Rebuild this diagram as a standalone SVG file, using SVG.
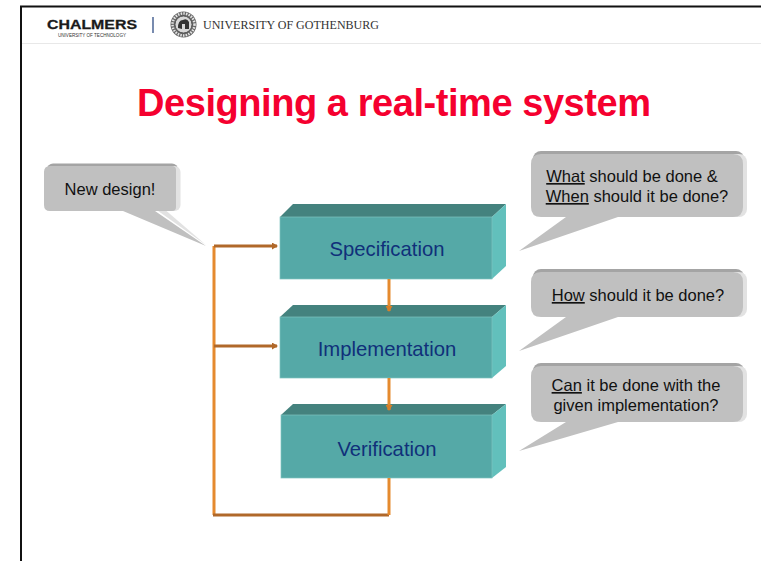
<svg xmlns="http://www.w3.org/2000/svg" width="761" height="561" viewBox="0 0 761 561">
<style>
text{font-family:"Liberation Sans",Arial,sans-serif}
.top{fill:#44827e}.front{fill:#55a9a7;stroke:#7fc4c0;stroke-width:.7}.side{fill:#62c0bc}
.lbl{font-size:20.300px;fill:#10307a;text-anchor:middle}
.sp{font-size:16.500px;fill:#111;text-anchor:middle}
.u{text-decoration:underline}
.sh1{fill:#a4a4a4}.sh2{fill:#e2e2e2}.bub{fill:#c0c0c0}
.or{stroke:#e58a2e;stroke-width:3;fill:none}.br{stroke:#b0682a;stroke-width:3;fill:none}
</style>
<defs>
<marker id="ah" markerUnits="userSpaceOnUse" markerWidth="7" markerHeight="7" refX="5" refY="3.500" orient="auto"><path d="M0 0L6 3.500L0 7Z" fill="#b0682a"/></marker>
<marker id="ao" markerUnits="userSpaceOnUse" markerWidth="7" markerHeight="7" refX="5" refY="3.500" orient="auto"><path d="M0 0L6 3.500L0 7Z" fill="#d67e28"/></marker>
</defs>
<rect width="761" height="561" fill="#fff"/>
<g id="frame">
<path d="M21 561V6.500H761" fill="none" stroke="#111" stroke-width="2"/>
<path d="M22 43.500H761" stroke="#e8e8e8" stroke-width="1"/>
</g>
<g id="header">
<text x="92" y="29" font-size="13.500" font-weight="bold" fill="#1a1a1a" stroke="#1a1a1a" stroke-width=".3" text-anchor="middle" textLength="90" lengthAdjust="spacingAndGlyphs">CHALMERS</text>
<text x="92" y="36.500" font-size="4.800" fill="#333" text-anchor="middle" textLength="68" lengthAdjust="spacingAndGlyphs">UNIVERSITY OF TECHNOLOGY</text>
<path d="M153 17V33" stroke="#1f3f7a" stroke-width="1.200"/>
<circle cx="183.500" cy="24.500" r="13" fill="#666"/>
<circle cx="183.500" cy="24.500" r="11" fill="none" stroke="#e4e4e4" stroke-width="2.500" stroke-dasharray="1.500 1.200"/>
<circle cx="183.500" cy="24.500" r="8.500" fill="#d8d8d8" stroke="#444" stroke-width=".8"/>
<path d="M178 28Q178 20 183 20Q187 18 189 22V29H185V24H182V29Z" fill="#333"/>
<text x="203" y="29" font-size="11.800" fill="#333" style="font-family:'Liberation Serif',serif" textLength="176" lengthAdjust="spacingAndGlyphs">UNIVERSITY OF GOTHENBURG</text>
</g>
<text x="394" y="116" font-size="38" font-weight="bold" fill="#f5002f" text-anchor="middle" textLength="514" lengthAdjust="spacing">Designing a real-time system</text>
<g id="specification">
<path class="top" d="M280 217L293 204H506L492 217Z"/><path class="side" d="M492 217L506 204V266L492 279Z"/><rect class="front" x="280" y="217" width="212" height="62"/>
<text class="lbl" x="387" y="256">Specification</text>
</g>
<g id="implementation">
<path class="top" d="M280 317L293 305H506L492 317Z"/><path class="side" d="M492 317L506 305V366L492 378Z"/><rect class="front" x="280" y="317" width="212" height="61"/>
<text class="lbl" x="387" y="356">Implementation</text>
</g>
<g id="verification">
<path class="top" d="M281 415L293 404H506L492 415Z"/><path class="side" d="M492 415L506 404V467L492 478Z"/><rect class="front" x="281" y="415" width="211" height="63"/>
<text class="lbl" x="387" y="456">Verification</text>
</g>
<g id="connectors">
<path class="or" d="M214 246V515"/>
<path class="br" d="M214 246H277" marker-end="url(#ah)"/>
<path class="br" d="M214 346H277" stroke-width="2" marker-end="url(#ah)"/>
<path class="br" d="M213 515H389"/>
<path class="or" d="M389 478V515"/>
<path class="or" d="M389 279V311" marker-end="url(#ao)"/>
<path class="or" d="M389 378V410" marker-end="url(#ao)"/>
</g>
<g id="callout-new">
<rect class="sh1" x="47" y="163.500" width="131" height="20" rx="6"/><rect class="sh2" x="60" y="166" width="120.500" height="45" rx="6"/>
<path class="sh2" d="M154 208L206 245L163 208Z"/>
<path class="bub" d="M50 166H172Q176 166 176 170V207Q176 211 172 211H155L206 246L123 211H50Q44 211 44 205V172Q44 166 50 166Z"/>
<text class="sp" x="110" y="195">New design!</text>
</g>
<g id="callout-what">
<rect class="sh1" x="533" y="151" width="211" height="20" rx="8"/><rect class="sh2" x="660" y="154" width="87" height="63" rx="8"/>
<path class="bub" d="M541 154H733Q743 154 743 164V207Q743 217 733 217H618L519 251L566 217H541Q531 217 531 207V164Q531 154 541 154Z"/>
<text class="sp" x="632" y="182"><tspan class="u">What</tspan> should be done &amp;</text>
<text class="sp" x="637" y="202"><tspan class="u">When</tspan> should it be done?</text>
</g>
<g id="callout-how">
<rect class="sh1" x="533" y="269" width="211" height="20" rx="8"/><rect class="sh2" x="660" y="272" width="87" height="45" rx="8"/>
<path class="bub" d="M541 272H733Q743 272 743 282V307Q743 317 733 317H618L519 351L566 317H541Q531 317 531 307V282Q531 272 541 272Z"/>
<text class="sp" x="638" y="301"><tspan class="u">How</tspan> should it be done?</text>
</g>
<g id="callout-can">
<rect class="sh1" x="533" y="363" width="211" height="20" rx="8"/><rect class="sh2" x="660" y="366" width="87" height="56" rx="8"/>
<path class="bub" d="M541 366H733Q743 366 743 376V412Q743 422 733 422H618L519 451L566 422H541Q531 422 531 412V376Q531 366 541 366Z"/>
<text class="sp" x="636" y="391"><tspan class="u">Can</tspan> it be done with the</text>
<text class="sp" x="636" y="411">given implementation?</text>
</g>
</svg>
